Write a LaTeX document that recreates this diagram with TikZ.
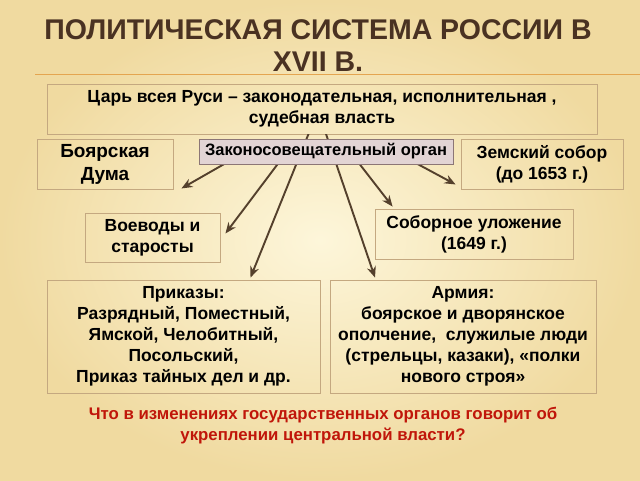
\documentclass[tikz,border=0pt]{standalone}
\usepackage{fontspec}
\setmainfont{Liberation Sans}
\usepackage{tikz}
\usetikzlibrary{arrows.meta, positioning}

\definecolor{bglight}{RGB}{253,246,218}
\definecolor{bgdark}{RGB}{240,218,160}
\definecolor{titlebrown}{RGB}{74,50,34}
\definecolor{rulecol}{RGB}{228,165,80}
\definecolor{boxline}{RGB}{196,168,128}
\definecolor{zakonfill}{RGB}{226,212,212}
\definecolor{zakonline}{RGB}{140,118,118}
\definecolor{arrowcol}{RGB}{84,64,44}
\definecolor{questred}{RGB}{192,22,10}

\begin{document}
\begin{tikzpicture}[
        x=1pt, y=-1pt,
        box/.style={rectangle, draw=boxline, line width=0.9pt, align=center, inner sep=0pt,
            font=\fontsize{17.5}{21}\selectfont\bfseries},
        zakonbox/.style={box, fill=zakonfill, draw=zakonline, font=\fontsize{16.5}{19}\selectfont\bfseries},
        arrow/.style={-{Stealth[length=11pt, width=9pt]}, draw=arrowcol, line width=1.9pt}
    ]

    % Background
    \useasboundingbox (0,0) rectangle (640,480);
    \shade[inner color=bglight, outer color=bgdark] (0,0) rectangle (640,480);

    % Title
    \node[font=\fontsize{28.5}{32}\selectfont\bfseries, text=titlebrown, align=center] (title) at (318,46)
        {ПОЛИТИЧЕСКАЯ СИСТЕМА РОССИИ В\\XVII В.};
    \draw[rulecol, line width=1pt] (35,74) -- (640,74);

    % Boxes
    \node[box, minimum width=550, minimum height=50] (tsar) at (322,109)
        {Царь всея Руси – законодательная, исполнительная ,\\судебная власть};
    \node[box, minimum width=136, minimum height=50, font=\fontsize{19}{23}\selectfont\bfseries] (duma) at (105,164)
        {Боярская\\Дума};
    \node[box, minimum width=162, minimum height=50] (zemsky) at (542,164) {Земский собор\\(до 1653 г.)};
    \node[box, minimum width=135, minimum height=49] (voevody) at (152.5,237.5) {Воеводы и\\старосты};
    \node[box, minimum width=198, minimum height=50] (ulozh) at (474,234) {Соборное уложение\\(1649 г.)};
    \node[box, minimum width=273, minimum height=113] (prikazy) at (183.5,336.5)
        {Приказы:\\Разрядный, Поместный,\\Ямской, Челобитный,\\Посольский,\\Приказ тайных дел и др.};
    \node[box, minimum width=266, minimum height=113] (army) at (463,336.5)
        {Армия:\\боярское и дворянское\\ополчение,\ \ служилые люди\\(стрельцы, казаки), «полки\\нового строя»};

    % Arrows
    \coordinate (hub) at ([shift={(-4,-24)}]tsar.south);
    \begin{scope}
        \clip (0,134) rectangle (640,480);
        \draw[arrow] (hub) -- ([shift={(67,-2)}]prikazy.north);
        \draw[arrow] (hub) -- ([shift={(-88,-2)}]army.north);
    \end{scope}
    \begin{scope}
        \clip (0,145) rectangle (640,480);
        \draw[arrow] (hub) -- ([shift={(8,-1)}]duma.south east);
        \draw[arrow] (hub) -- ([shift={(-5,-5)}]zemsky.south west);
        \draw[arrow] (hub) -- ([shift={(5,-4)}]voevody.east);
        \draw[arrow] (hub) -- ([shift={(18,-2)}]ulozh.north west);
    \end{scope}

    \node[zakonbox, minimum width=254, minimum height=25] (zakon) at (326,151.5) {Законосовещательный орган};

    % Question
    \node[font=\fontsize{16.8}{21}\selectfont\bfseries, text=questred, align=center] (question) at (323,426)
        {Что в изменениях государственных органов говорит об\\укреплении центральной власти?};

\end{tikzpicture}
\end{document}
